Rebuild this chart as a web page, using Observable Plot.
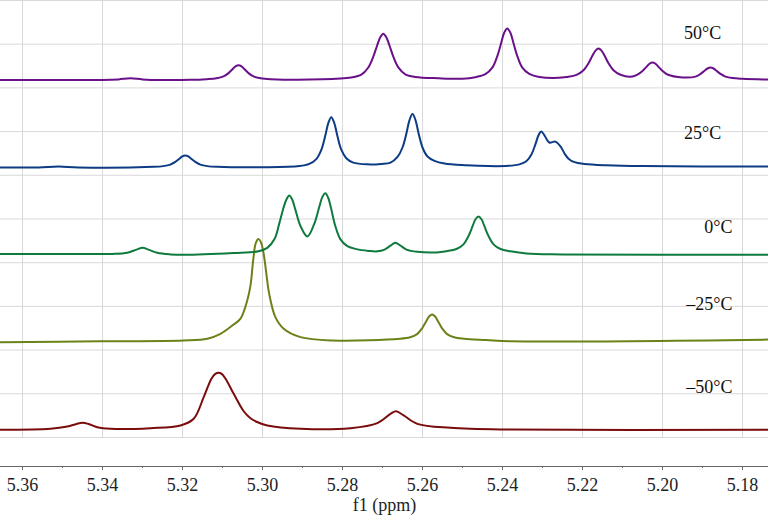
<!DOCTYPE html>
<html><head><meta charset="utf-8">
<script src="https://cdn.jsdelivr.net/npm/d3@7"></script>
<script src="https://cdn.jsdelivr.net/npm/@observablehq/plot@0.6"></script>
<style>
html,body{margin:0;padding:0;background:#fff;}
#chart svg{display:block;}
#chart svg text{font-family:"Liberation Serif","Times New Roman",serif !important;font-size:18px !important;}
</style></head><body><div id="chart"></div>
<script>
// Temperatures, bottom to top
const temperatures = ["–50°C", "–25°C", "0°C", "25°C", "50°C"];
const colors = ["#7a0c0c", "#6b8219", "#0f7a3d", "#0d3c84", "#6a118a"];

// [ppm, intensity] (intensity relative to the spectrum's own slot)
const spectrumM50 = [[5.3655,0.088],[5.353,0.10],[5.3488,0.126],[5.3465,0.155],[5.345,0.168],[5.3435,0.155],[5.3413,0.118],[5.338,0.10],[5.328,0.107],[5.3205,0.137],[5.3172,0.214],[5.3147,0.461],[5.3128,0.67],[5.3118,0.728],[5.311,0.742],[5.3102,0.728],[5.3092,0.67],[5.3072,0.50],[5.3047,0.30],[5.303,0.22],[5.3015,0.18],[5.2988,0.137],[5.2905,0.10],[5.278,0.107],[5.2713,0.165],[5.268,0.271],[5.2666,0.30],[5.2647,0.252],[5.2613,0.156],[5.253,0.11],[5.238,0.09],[5.1735,0.088]];
const spectrumM25 = [[5.3655,0.09],[5.3405,0.10],[5.3198,0.11],[5.3138,0.13],[5.3105,0.186],[5.3073,0.29],[5.3055,0.36],[5.3038,0.57],[5.303,0.74],[5.3023,1.04],[5.3017,1.22],[5.301,1.27],[5.3004,1.235],[5.2997,1.10],[5.299,0.86],[5.2984,0.66],[5.2968,0.38],[5.2947,0.244],[5.2905,0.148],[5.2823,0.11],[5.2656,0.129],[5.2631,0.146],[5.26135,0.183],[5.2601,0.249],[5.2591,0.327],[5.25835,0.384],[5.2576,0.407],[5.25685,0.384],[5.2561,0.327],[5.2551,0.249],[5.25385,0.183],[5.2521,0.146],[5.2496,0.13],[5.244,0.115],[5.238,0.10],[5.1735,0.12]];
const spectrum0 = [[5.3655,0.10],[5.3405,0.10],[5.3375,0.10],[5.3338,0.113],[5.3315,0.15],[5.33,0.17],[5.3285,0.15],[5.3263,0.113],[5.323,0.095],[5.3198,0.09],[5.3073,0.11],[5.301,0.13],[5.2988,0.17],[5.297,0.27],[5.2958,0.45],[5.2948,0.62],[5.29405,0.72],[5.2933,0.77],[5.29255,0.72],[5.2918,0.61],[5.2905,0.42],[5.2888,0.30],[5.2871,0.44],[5.2858,0.64],[5.28505,0.75],[5.2843,0.795],[5.28355,0.74],[5.2828,0.61],[5.2818,0.42],[5.28055,0.27],[5.2788,0.19],[5.2765,0.155],[5.2735,0.135],[5.2713,0.13],[5.2695,0.15],[5.268,0.195],[5.2668,0.228],[5.2655,0.195],[5.264,0.15],[5.2613,0.125],[5.2565,0.118],[5.254,0.132],[5.2515,0.157],[5.24975,0.21],[5.2485,0.305],[5.2475,0.415],[5.24675,0.497],[5.246,0.529],[5.24525,0.497],[5.2445,0.415],[5.2435,0.305],[5.24225,0.21],[5.2405,0.157],[5.238,0.13],[5.234,0.105],[5.225,0.095],[5.1735,0.09]];
const spectrum25 = [[5.3655,0.09],[5.356,0.09],[5.351,0.10],[5.346,0.09],[5.3273,0.097],[5.3248,0.105],[5.32305,0.122],[5.3218,0.153],[5.3208,0.189],[5.32005,0.216],[5.3193,0.227],[5.31855,0.216],[5.3178,0.189],[5.3168,0.153],[5.31555,0.122],[5.3138,0.105],[5.3113,0.097],[5.30,0.092],[5.2908,0.105],[5.2883,0.13],[5.28655,0.185],[5.2853,0.29],[5.2843,0.454],[5.28355,0.598],[5.2828,0.665],[5.28205,0.598],[5.2813,0.454],[5.2803,0.293],[5.27905,0.195],[5.2773,0.145],[5.2738,0.125],[5.2703,0.13],[5.268,0.145],[5.26625,0.21],[5.265,0.318],[5.264,0.483],[5.26325,0.632],[5.2625,0.70],[5.26175,0.632],[5.261,0.483],[5.260,0.318],[5.25875,0.215],[5.257,0.165],[5.2545,0.135],[5.249,0.115],[5.2435,0.105],[5.2385,0.108],[5.2358,0.125],[5.23405,0.16],[5.2328,0.235],[5.2318,0.35],[5.23105,0.453],[5.2303,0.50],[5.22955,0.46],[5.2283,0.375],[5.2268,0.385],[5.2255,0.33],[5.2245,0.25],[5.2235,0.19],[5.222,0.15],[5.2195,0.13],[5.214,0.115],[5.205,0.105],[5.1735,0.10]];
const spectrum50 = [[5.3655,0.09],[5.345,0.09],[5.34,0.09],[5.336,0.097],[5.333,0.11],[5.33,0.097],[5.325,0.09],[5.318,0.092],[5.314,0.10],[5.3115,0.11],[5.30975,0.131],[5.3085,0.169],[5.3075,0.214],[5.30675,0.247],[5.306,0.26],[5.30525,0.247],[5.3045,0.214],[5.3035,0.169],[5.30225,0.131],[5.3005,0.11],[5.298,0.10],[5.285,0.098],[5.2778,0.12],[5.2753,0.152],[5.27355,0.234],[5.2723,0.358],[5.2713,0.491],[5.27055,0.579],[5.2698,0.62],[5.26905,0.579],[5.2683,0.491],[5.2673,0.358],[5.26605,0.234],[5.2643,0.155],[5.2618,0.125],[5.256,0.11],[5.25,0.105],[5.2468,0.122],[5.2443,0.157],[5.24255,0.232],[5.2413,0.364],[5.2403,0.519],[5.23955,0.634],[5.2388,0.68],[5.23805,0.634],[5.2373,0.519],[5.2363,0.364],[5.23505,0.232],[5.2333,0.16],[5.2308,0.125],[5.226,0.115],[5.224,0.125],[5.2215,0.149],[5.21975,0.202],[5.2185,0.283],[5.2175,0.37],[5.21675,0.427],[5.216,0.45],[5.21525,0.427],[5.2145,0.37],[5.2135,0.283],[5.21225,0.202],[5.2105,0.15],[5.208,0.128],[5.20625,0.153],[5.205,0.194],[5.204,0.241],[5.20325,0.276],[5.2025,0.29],[5.20175,0.276],[5.201,0.241],[5.200,0.194],[5.19875,0.153],[5.195,0.12],[5.19175,0.129],[5.1905,0.16],[5.1895,0.196],[5.18875,0.222],[5.188,0.233],[5.18725,0.222],[5.1865,0.196],[5.1855,0.16],[5.18425,0.129],[5.1825,0.112],[5.18,0.104],[5.1735,0.095]];

const spectra = [spectrumM50, spectrumM25, spectrum0, spectrum25, spectrum50];

// Temperature label anchors (ppm, level)
const labelPpm = [5.1825, 5.1825, 5.1825, 5.1853, 5.1853];
const labelLevel = [0.57, 1.53, 2.40, 3.48, 4.62];

const majorTicks = [5.36, 5.34, 5.32, 5.30, 5.28, 5.26, 5.24, 5.22, 5.20, 5.18];
const minorTicks = [5.35, 5.33, 5.31, 5.29, 5.27, 5.25, 5.23, 5.21, 5.19];
const gridLevels = [0, 0.5, 1, 1.5, 2, 2.5, 3, 3.5, 4, 4.5, 5];
const xDomain = [5.3655, 5.1735];
const yDomain = [-0.332, 5];

const rows = spectra.flatMap((s, i) => s.map(([p, v]) => ({ppm: p, level: i + v, temp: temperatures[i]})));
const labels = temperatures.map((t, i) => ({t, ppm: labelPpm[i], level: labelLevel[i]}));
const serif = "'Liberation Serif', 'Times New Roman', serif";

const chart = Plot.plot({
  width: 768, height: 518,
  marginTop: 0, marginRight: 0, marginBottom: 52, marginLeft: 0,
  style: {fontFamily: serif, fontSize: "18px", color: "#222", background: "#fff"},
  x: {domain: xDomain, label: null},
  y: {domain: yDomain, axis: null},
  color: {domain: temperatures, range: colors},
  marks: [
    Plot.ruleY(gridLevels, {stroke: "#d9d9d9", strokeWidth: 1}),
    Plot.ruleX(majorTicks, {y1: 0, y2: 5, stroke: "#d9d9d9", strokeWidth: 1}),
    Plot.line(rows, {x: "ppm", y: "level", z: "temp", stroke: "temp", strokeWidth: 2, curve: "catmull-rom"}),
    Plot.text(labels, {x: "ppm", y: "level", text: "t", textAnchor: "end", fontSize: 18, fontFamily: serif, fill: "#111"}),
    Plot.ruleY([yDomain[0]], {stroke: "#666", strokeWidth: 1}),
    Plot.axisX(minorTicks, {tickSize: 2, tickFormat: () => "", stroke: "#666", label: null}),
    Plot.axisX(majorTicks, {tickSize: 4, tickPadding: 8, tickFormat: (d) => d.toFixed(2), fontSize: 18, fontFamily: serif, stroke: "#666", fill: "#222", label: null}),
    Plot.text(["f1 (ppm)"], {frameAnchor: "bottom", dy: 44, fontSize: 18, fontFamily: serif, fill: "#222"})
  ]
});
document.getElementById("chart").appendChild(chart);
</script>
</body></html>
